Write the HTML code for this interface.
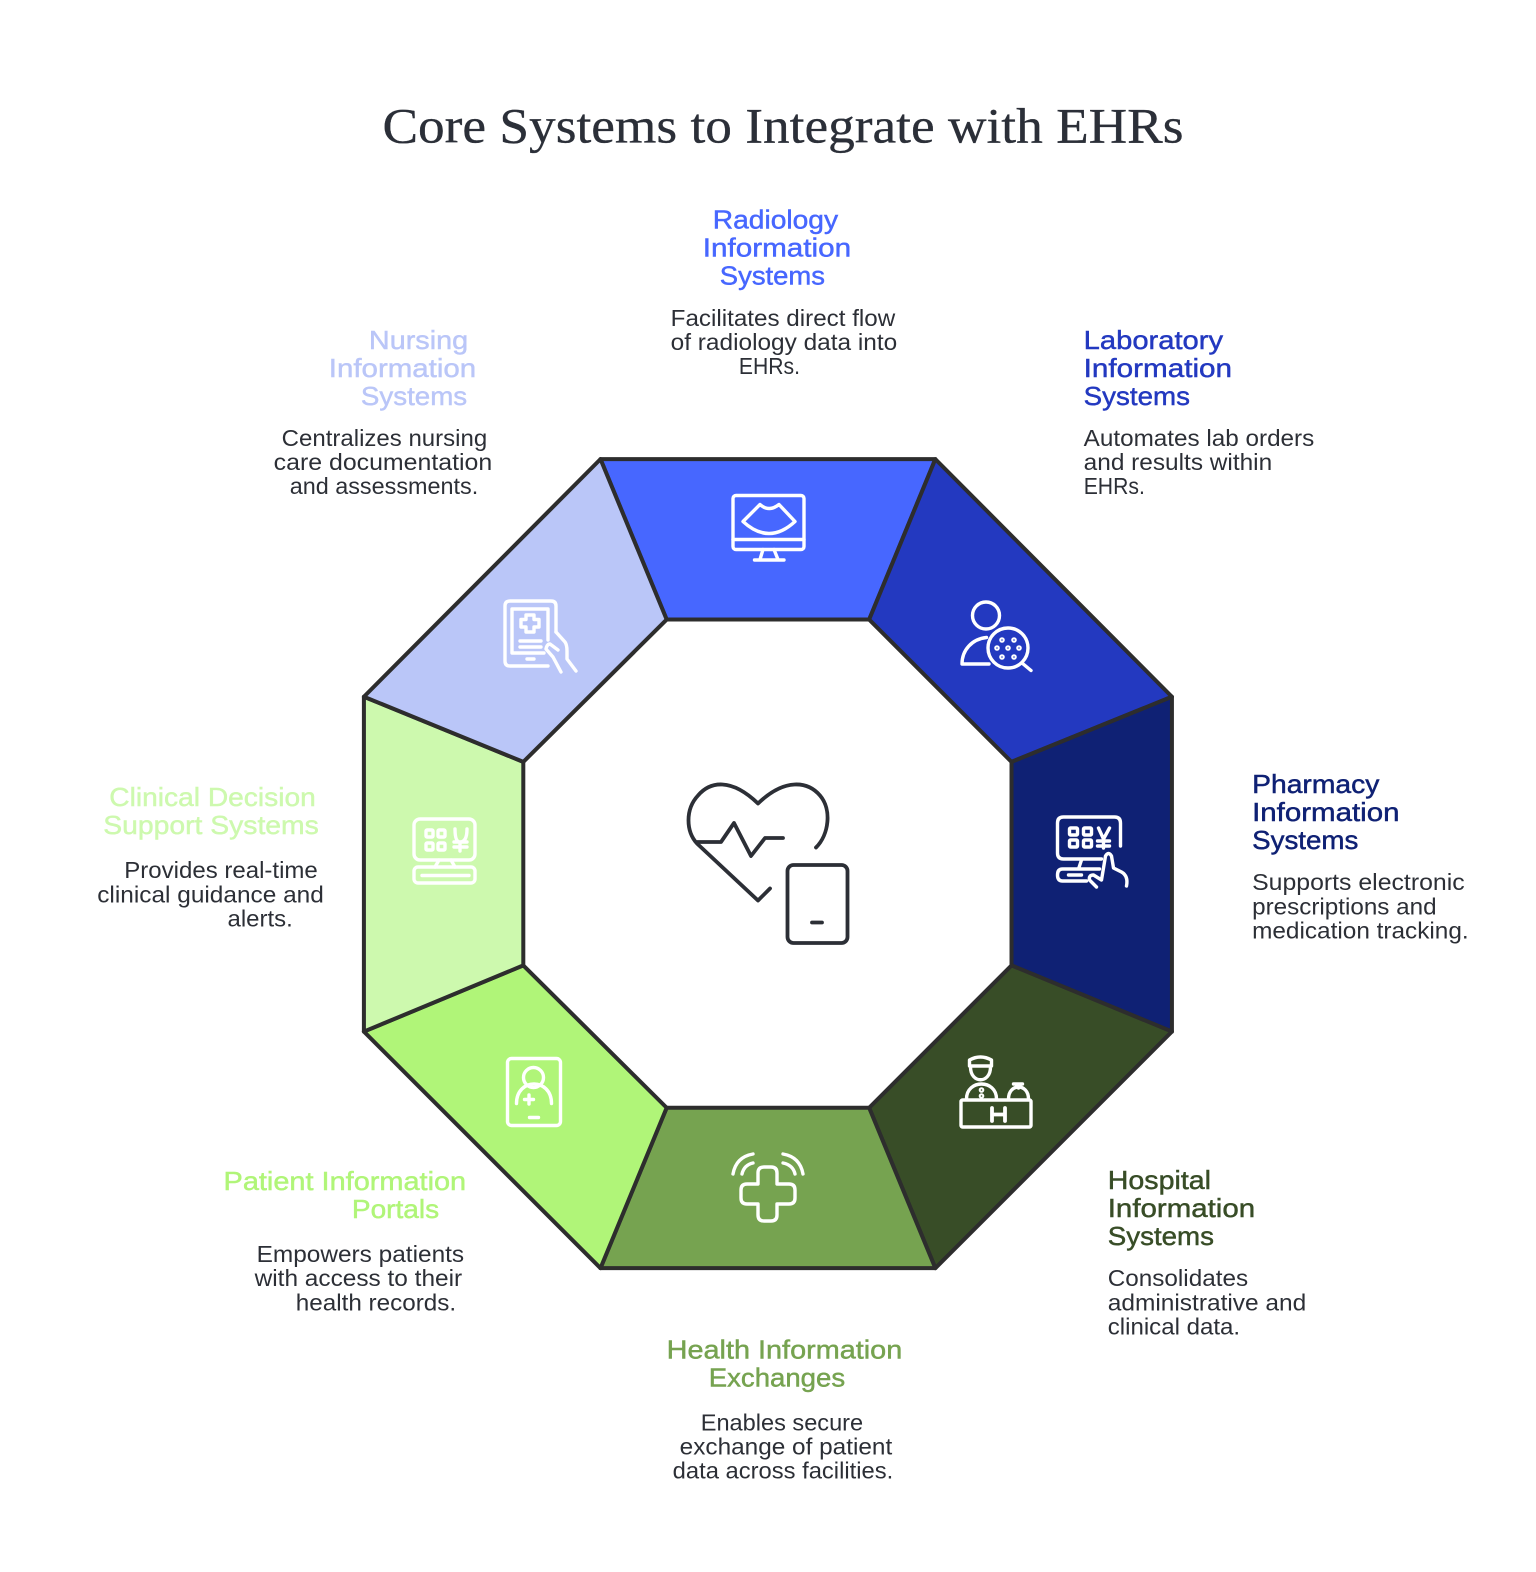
<!DOCTYPE html>
<html><head><meta charset="utf-8"><title>Core Systems to Integrate with EHRs</title>
<style>
html,body{margin:0;padding:0;background:#fff;width:1536px;height:1572px;overflow:hidden}
svg{display:block}
.t{font-family:"Liberation Serif",serif;font-size:50px;fill:#2b2f38;stroke:#2b2f38;stroke-width:.3px}
.h{font-family:"Liberation Sans",sans-serif;font-size:26px;stroke-width:.45px}
.b{font-family:"Liberation Sans",sans-serif;font-size:23px;fill:#2c2f36}
.ic{fill:none;stroke:#fff;stroke-width:3.4;stroke-linecap:round;stroke-linejoin:round}
.ic2{fill:none;stroke:#2c2f36;stroke-width:3.8;stroke-linecap:round;stroke-linejoin:round}
</style></head><body>
<svg width="1536" height="1572" viewBox="0 0 1536 1572" xmlns="http://www.w3.org/2000/svg">
<rect width="1536" height="1572" fill="#fff"/>

<g transform="scale(1.0025)">
<text class="t" x="381.500" y="142" textLength="799" lengthAdjust="spacingAndGlyphs">Core Systems to Integrate with EHRs</text>

<g stroke="#2d2d2d" stroke-width="4" stroke-linejoin="round">
<polygon fill="#4767ff" points="599,458 933,458 867,618 665,618"/>
<polygon fill="#2339c0" points="933,458 1169,695 1009,760 867,618"/>
<polygon fill="#0f2174" points="1169,695 1169,1029 1009,963 1009,760"/>
<polygon fill="#384d27" points="1169,1029 933,1265 867,1105 1009,963"/>
<polygon fill="#76a350" points="933,1265 599,1265 665,1105 867,1105"/>
<polygon fill="#b0f578" points="599,1265 363,1029 522,963 665,1105"/>
<polygon fill="#cdf9ae" points="363,1029 363,695 522,760 522,963"/>
<polygon fill="#bac6f8" points="363,695 599,458 665,618 522,760"/>
</g>

<!-- Radiology -->
<g class="h" fill="#4767ff" stroke="#4767ff">
<text x="711" y="228" textLength="125" lengthAdjust="spacingAndGlyphs">Radiology</text>
<text x="701" y="256" textLength="148" lengthAdjust="spacingAndGlyphs">Information</text>
<text x="718" y="284" textLength="105" lengthAdjust="spacingAndGlyphs">Systems</text>
</g>
<text class="b" x="669" y="325" textLength="224" lengthAdjust="spacingAndGlyphs">Facilitates direct flow</text>
<text class="b" x="669" y="349" textLength="226" lengthAdjust="spacingAndGlyphs">of radiology data into</text>
<text class="b" x="737" y="373" textLength="61" lengthAdjust="spacingAndGlyphs">EHRs.</text>
<!-- Laboratory -->
<g class="h" fill="#2339c0" stroke="#2339c0">
<text x="1081" y="348" textLength="139" lengthAdjust="spacingAndGlyphs">Laboratory</text>
<text x="1081" y="376" textLength="148" lengthAdjust="spacingAndGlyphs">Information</text>
<text x="1081" y="404" textLength="106" lengthAdjust="spacingAndGlyphs">Systems</text>
</g>
<text class="b" x="1081" y="445" textLength="230" lengthAdjust="spacingAndGlyphs">Automates lab orders</text>
<text class="b" x="1081" y="469" textLength="188" lengthAdjust="spacingAndGlyphs">and results within</text>
<text class="b" x="1081" y="493" textLength="61" lengthAdjust="spacingAndGlyphs">EHRs.</text>
<!-- Nursing -->
<g class="h" fill="#bac6f8" stroke="#bac6f8">
<text x="368" y="348" textLength="99" lengthAdjust="spacingAndGlyphs">Nursing</text>
<text x="328" y="376" textLength="147" lengthAdjust="spacingAndGlyphs">Information</text>
<text x="360" y="404" textLength="106" lengthAdjust="spacingAndGlyphs">Systems</text>
</g>
<text class="b" x="281" y="445" textLength="205" lengthAdjust="spacingAndGlyphs">Centralizes nursing</text>
<text class="b" x="273" y="469" textLength="218" lengthAdjust="spacingAndGlyphs">care documentation</text>
<text class="b" x="289" y="493" textLength="188" lengthAdjust="spacingAndGlyphs">and assessments.</text>
<!-- Pharmacy -->
<g class="h" fill="#0f2174" stroke="#0f2174">
<text x="1249" y="791" textLength="127" lengthAdjust="spacingAndGlyphs">Pharmacy</text>
<text x="1249" y="819" textLength="147" lengthAdjust="spacingAndGlyphs">Information</text>
<text x="1249" y="847" textLength="106" lengthAdjust="spacingAndGlyphs">Systems</text>
</g>
<text class="b" x="1249" y="888" textLength="212" lengthAdjust="spacingAndGlyphs">Supports electronic</text>
<text class="b" x="1249" y="912" textLength="184" lengthAdjust="spacingAndGlyphs">prescriptions and</text>
<text class="b" x="1249" y="936" textLength="216" lengthAdjust="spacingAndGlyphs">medication tracking.</text>
<!-- Clinical -->
<g class="h" fill="#cdf9ae" stroke="#cdf9ae">
<text x="109" y="804" textLength="206" lengthAdjust="spacingAndGlyphs">Clinical Decision</text>
<text x="103" y="832" textLength="215" lengthAdjust="spacingAndGlyphs">Support Systems</text>
</g>
<text class="b" x="124" y="876" textLength="193" lengthAdjust="spacingAndGlyphs">Provides real-time</text>
<text class="b" x="97" y="900" textLength="226" lengthAdjust="spacingAndGlyphs">clinical guidance and</text>
<text class="b" x="227" y="924" textLength="65" lengthAdjust="spacingAndGlyphs">alerts.</text>
<!-- Hospital -->
<g class="h" fill="#384d27" stroke="#384d27">
<text x="1105" y="1186" textLength="103" lengthAdjust="spacingAndGlyphs">Hospital</text>
<text x="1105" y="1214" textLength="147" lengthAdjust="spacingAndGlyphs">Information</text>
<text x="1105" y="1242" textLength="106" lengthAdjust="spacingAndGlyphs">Systems</text>
</g>
<text class="b" x="1105" y="1283" textLength="140" lengthAdjust="spacingAndGlyphs">Consolidates</text>
<text class="b" x="1105" y="1307" textLength="198" lengthAdjust="spacingAndGlyphs">administrative and</text>
<text class="b" x="1105" y="1331" textLength="132" lengthAdjust="spacingAndGlyphs">clinical data.</text>
<!-- Patient -->
<g class="h" fill="#b0f578" stroke="#b0f578">
<text x="223" y="1187" textLength="242" lengthAdjust="spacingAndGlyphs">Patient Information</text>
<text x="351" y="1215" textLength="87" lengthAdjust="spacingAndGlyphs">Portals</text>
</g>
<text class="b" x="256" y="1259" textLength="207" lengthAdjust="spacingAndGlyphs">Empowers patients</text>
<text class="b" x="254" y="1283" textLength="207" lengthAdjust="spacingAndGlyphs">with access to their</text>
<text class="b" x="295" y="1307" textLength="160" lengthAdjust="spacingAndGlyphs">health records.</text>
<!-- Health -->
<g class="h" fill="#76a350" stroke="#76a350">
<text x="665" y="1355" textLength="235" lengthAdjust="spacingAndGlyphs">Health Information</text>
<text x="707" y="1383" textLength="136" lengthAdjust="spacingAndGlyphs">Exchanges</text>
</g>
<text class="b" x="699" y="1427" textLength="162" lengthAdjust="spacingAndGlyphs">Enables secure</text>
<text class="b" x="678" y="1451" textLength="212" lengthAdjust="spacingAndGlyphs">exchange of patient</text>
<text class="b" x="671" y="1475" textLength="220" lengthAdjust="spacingAndGlyphs">data across facilities.</text>
</g>

<!-- Radiology icon -->
<g class="ic" transform="translate(1,0.500)">
<rect x="732" y="495" width="71" height="54" rx="3"/>
<path d="M732 539H803M762 549L759 559M773 549L777 559M753.500 559.500H783"/>
<path d="M759 504Q768 512 778 504L794 521Q768 545 742 521Z"/>
</g>
<!-- Laboratory icon -->
<g class="ic">
<circle cx="986" cy="615.500" r="13.500"/>
<path d="M986.500 637.500C972 639 962 650 962 664H989"/>
<circle cx="1008" cy="648" r="20"/>
<path d="M1022 663L1031 670.500"/>
<g stroke-width="2"><circle cx="1002" cy="640" r="1.800"/><circle cx="1014" cy="640" r="1.800"/><circle cx="997" cy="648" r="1.800"/><circle cx="1008" cy="648" r="1.800"/><circle cx="1019" cy="648" r="1.800"/><circle cx="1002" cy="657" r="1.800"/><circle cx="1014" cy="657" r="1.800"/></g>
</g>
<!-- Pharmacy icon -->
<g class="ic" transform="translate(1.500,1)">
<path d="M1119 845V822Q1119 816 1113 816H1062Q1056 816 1056 822V852Q1056 858 1062 858H1100"/>
<path d="M1098 868H1061Q1056 868 1056 874Q1056 880 1061 880H1085M1067 874H1080M1080 859L1077 868"/>
<rect x="1068" y="827" width="8" height="7" rx="1"/><rect x="1082" y="827" width="8" height="7" rx="1"/>
<rect x="1068" y="839" width="8" height="7" rx="1"/><rect x="1082" y="839" width="8" height="7" rx="1"/>
<path d="M1097 827L1102 838L1108 827M1102 838V847M1096 840H1108M1096 845H1108"/>
<path d="M1095 886L1088 879Q1087 874 1092 874L1100 879L1104 855Q1107 850 1110 855L1112 867L1120 871Q1127 875 1125 885"/>
</g>
<!-- Hospital icon -->
<g class="ic" transform="translate(2.500,1)">
<rect x="958.500" y="1099" width="70" height="27" rx="1.500"/>
<path d="M989.500 1107V1120M1002.500 1107V1120M989.500 1113.500H1002.500" stroke-width="3.800"/>
<path d="M967 1065V1059Q978 1053 989 1059V1065ZM968 1066C968 1083 988 1083 988 1066"/>
<path d="M964 1098C964 1078 994 1078 994 1098"/>
<circle cx="979" cy="1089" r="1.800" stroke-width="2"/><circle cx="979" cy="1095" r="1.800" stroke-width="2"/>
<path d="M1006 1098C1006 1082 1026 1082 1026 1098M1016 1083V1087M1011 1083H1020"/>
</g>
<!-- Health icon -->
<g class="ic" transform="translate(0,1)">
<path d="M758 1172Q758 1166 764 1166H771Q777 1166 777 1172V1183H789Q795 1183 795 1189V1197Q795 1203 789 1203H777V1214Q777 1220 771 1220H764Q758 1220 758 1214V1203H747Q741 1203 741 1197V1189Q741 1183 747 1183H758Z"/>
<path d="M733 1173Q736 1156 753 1153M742 1173Q744 1164 753 1162M803 1173Q800 1156 783 1153M795 1173Q793 1164 783 1162"/>
</g>
<!-- Patient icon -->
<g class="ic" transform="translate(0.500,0.500)">
<rect x="507" y="1058" width="53" height="67" rx="4"/>
<circle cx="533" cy="1077" r="10"/>
<path d="M516 1103C516 1077 551 1077 551 1103M524 1099H533M528.500 1094.500V1103.500M529 1117H538"/>
</g>
<!-- Clinical icon -->
<g class="ic" transform="translate(1,0)">
<rect x="413" y="819" width="61" height="41" rx="6"/>
<rect x="413" y="867" width="61" height="16" rx="4"/>
<path d="M421 875.500H468M438 860L434 867M450 860L454 867"/>
<rect x="425" y="830" width="7" height="7" rx="1"/><rect x="437" y="830" width="7" height="7" rx="1"/>
<rect x="425" y="843" width="7" height="7" rx="1"/><rect x="437" y="843" width="7" height="7" rx="1"/>
<path d="M454 829Q454 842 459 842Q466 842 466 829M459 842V851M453 842H466M453 847H466"/>
</g>
<!-- Nursing icon -->
<g class="ic" transform="translate(1,1)">
<path d="M555 631V605Q555 600 550 600H509Q504 600 504 605V660Q504 665 509 665H547"/>
<path d="M547 639V608H511V652H543"/>
<path d="M525 614H533V618.500H538V626H533V631H525V626H520V618.500H525Z"/>
<path d="M519 640H540M519 646H540M526 658H533"/>
<path d="M555 631L564 641Q566 644 566 650V658L575 670M560 671L552 656L545 648Q546 643 549 643L557 649"/>
</g>
<!-- Center icon -->
<g class="ic2">
<path d="M770 889L758 901L697 844C686 832 685 810 698 796C710 782 731 778 758 804C785 778 808 782 820 796C832 810 829 835 816 848" transform="translate(0,-0.500)"/>
<path d="M697 842H721L734 823L751 856L765 838H783"/>
<rect x="787.500" y="865" width="60" height="78" rx="6"/>
<path d="M812 922.500H822"/>
</g>
</svg>
</body></html>
